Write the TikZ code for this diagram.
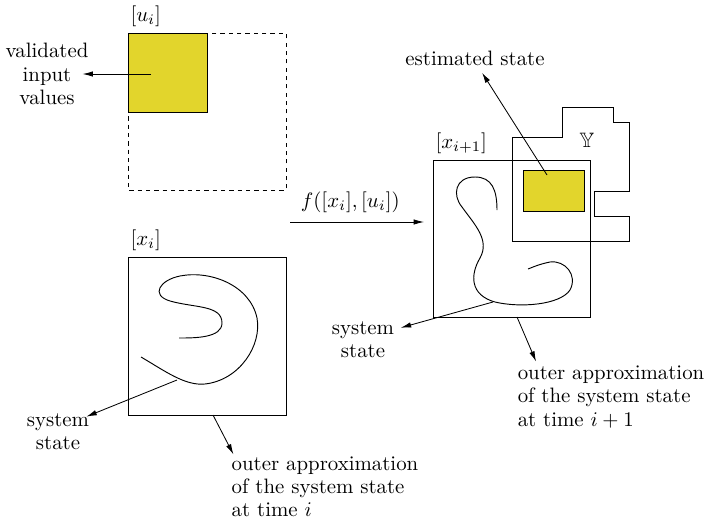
\documentclass[tikz,border=0pt]{standalone}
\usepackage{amsmath,amssymb}
\usepackage{xcolor}
\usepackage{tikz}
\usetikzlibrary{arrows.meta,positioning,calc}
\definecolor{setyellow}{HTML}{E2D52C}

\begin{document}
\begin{tikzpicture}[
          x=0.48pt, y=-0.48pt,
          every node/.style={font=\fontsize{10}{11.1}\selectfont},
          frame/.style={draw, line width=0.45pt},
          hull/.style={line width=0.45pt},
          lbl/.style={align=center, inner sep=1pt},
          setlbl/.style={anchor=south west, inner sep=1pt},
          arr/.style={-{Latex[length=5pt,width=2.6pt]}, line width=0.4pt}
      ]
        \useasboundingbox (0,0) rectangle (708,524);

        \draw[frame, dash pattern=on 2pt off 2pt] (128,33) rectangle (286,190);
        \draw[frame, fill=setyellow] (128,33) rectangle (207,112);
        \node[setlbl] (ulbl) at (128,29) {$[u_i]$};

        \draw[frame] (128,257) rectangle (286,415);
        \node[setlbl] (xlbl) at (128,253) {$[x_i]$};

        \draw[frame] (433,160) rectangle (590,317);
        \node[setlbl] (xnlbl) at (433,156) {$[x_{i+1}]$};

        \draw[frame] (512,137) -- (562,137) -- (562,107) -- (613,107)
              -- (613,122) -- (629,122) -- (629,191) -- (594,191)
              -- (594,216) -- (629,216) -- (629,241) -- (512,241) -- cycle;
        \node (ylbl) at (587,140) {$\mathbb{Y}$};
        \draw[frame, fill=setyellow] (523,170) rectangle (584,211);

        \draw[hull] (141,357) .. controls (165,371) and (185,386) .. (205,384)
              .. controls (240,380) and (262,345) .. (257,318)
              .. controls (250,285) and (210,270) .. (180,276)
              .. controls (160,280) and (150,295) .. (170,301)
              .. controls (195,308) and (222,305) .. (222,323)
              .. controls (222,338) and (195,338) .. (179,338);

        \draw[hull] (497,210) .. controls (497,190) and (492,177) .. (475,177)
              .. controls (455,177) and (452,195) .. (462,207)
              .. controls (475,225) and (490,240) .. (480,258)
              .. controls (470,275) and (470,295) .. (495,302)
              .. controls (520,308) and (560,305) .. (570,290)
              .. controls (578,275) and (565,260) .. (550,262)
              .. controls (540,264) and (533,267) .. (528,269);

        \coordinate (ue) at (151,74);
        \coordinate (ye) at (547,175);
        \coordinate (sl) at (177,380);
        \coordinate (sr) at (493,302);
        \coordinate (bl) at (213,415);
        \coordinate (br) at (517,317);
        \coordinate (fs) at (290,222);
        \coordinate (fe) at (424,222);

        \node[lbl] (val) at (47,74) {validated\\input\\values};
        \node (est) at (475,58) {estimated state};
        \node[lbl] (sysl) at (58,432) {system\\state};
        \node[lbl] (sysr) at (363,340) {system\\state};
        \node[lbl, align=left] (outl) at (325,487)
              {outer approximation\\of the system state\\at time $i$};
        \node[lbl, align=left] (outr) at (611,397)
              {outer approximation\\of the system state\\at time $i+1$};

        \draw[arr] (fs) -- node[above=1pt, pos=0.45] (flbl) {$f([x_i],[u_i])$} (fe);
        \draw[arr] (ue) -- ([xshift=-4pt]val.east);
        \draw[arr] (ye) -- ([xshift=3.4pt]est.south);
        \draw[arr] (sl) -- ([xshift=-2.5pt, yshift=-2.5pt]sysl.north east);
        \draw[arr] (sr) -- ([xshift=2pt, yshift=-4pt]sysr.north east);
        \draw[arr] (bl) -- ([xshift=2pt]outl.north west);
        \draw[arr] (br) -- ([xshift=10pt, yshift=1pt]outr.north west);
      \end{tikzpicture}
\end{document}
